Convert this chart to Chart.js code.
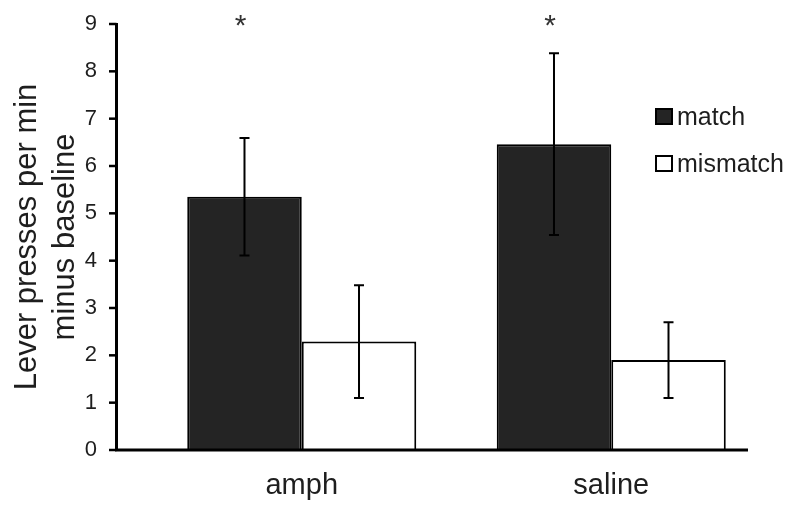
<!DOCTYPE html>
<html>
<head>
<meta charset="utf-8">
<script src="https://cdn.jsdelivr.net/npm/chart.js@4/dist/chart.umd.min.js"></script>
<style>
  html, body { margin: 0; padding: 0; background: #fff; }
  canvas { display: block; }
</style>
</head>
<body>
<canvas id="pressChart" width="800" height="518"></canvas>
<script>
// values
const categories = ['amph', 'saline'];
const matchValues = [5.35, 6.46];
const mismatchValues = [2.29, 1.90];
const matchErrors = [1.24, 1.92];
const mismatchErrors = [1.19, 0.80];
const significant = [true, true];
const yMin = 0;
const yMax = 9;

const FONT = '"Liberation Sans", Arial, sans-serif';
const TEXT = '#1e1e1e';

const errorBars = [matchErrors, mismatchErrors];

// error bars, asterisks, axis lines and the legend
const extrasPlugin = {
    id: 'extras',
    afterDatasetsDraw(chart) {
        const ctx = chart.ctx;
        const y = chart.scales.y;
        const y0 = y.getPixelForValue(yMin);
        const y9 = y.getPixelForValue(yMax);
        ctx.save();

        // error bars
        ctx.strokeStyle = '#000';
        ctx.lineWidth = 2;
        chart.data.datasets.forEach((ds, i) => {
            chart.getDatasetMeta(i).data.forEach((bar, j) => {
                const v = ds.data[j];
                const e = errorBars[i][j];
                const top = y.getPixelForValue(v + e);
                const bot = y.getPixelForValue(v - e);
                ctx.beginPath();
                ctx.moveTo(bar.x, top); ctx.lineTo(bar.x, bot);
                ctx.moveTo(bar.x - 5, top); ctx.lineTo(bar.x + 5, top);
                ctx.moveTo(bar.x - 5, bot); ctx.lineTo(bar.x + 5, bot);
                ctx.stroke();
            });
        });

        // asterisks over the match bars
        ctx.fillStyle = '#333';
        ctx.font = '30px ' + FONT;
        ctx.textAlign = 'center';
        ctx.textBaseline = 'middle';
        chart.getDatasetMeta(0).data.forEach((bar, j) => {
            if (significant[j]) ctx.fillText('*', bar.x - 4, y.getPixelForValue(9.1) + 7);
        });

        // axis lines and y tick marks
        const axisX = 116.5;
        ctx.strokeStyle = '#000';
        ctx.lineWidth = 3;
        ctx.beginPath();
        ctx.moveTo(axisX, y9 - 1);
        ctx.lineTo(axisX, y0);
        ctx.lineTo(748, y0);
        ctx.stroke();
        ctx.lineWidth = 2.5;
        for (let v = yMin; v <= yMax; v++) {
            const py = y.getPixelForValue(v);
            ctx.beginPath();
            ctx.moveTo(109, py);
            ctx.lineTo(axisX, py);
            ctx.stroke();
        }

        // legend
        ctx.font = '25px ' + FONT;
        ctx.textAlign = 'left';
        ctx.textBaseline = 'alphabetic';
        chart.data.datasets.forEach((ds, i) => {
            const top = 108 + i * 47;
            ctx.fillStyle = ds.backgroundColor;
            ctx.fillRect(655, top, 18, 17);
            ctx.strokeStyle = '#000';
            ctx.lineWidth = 2;
            ctx.strokeRect(656, top + 1, 16, 15);
            ctx.fillStyle = TEXT;
            ctx.fillText(ds.label, 677, top + 17);
        });

        ctx.restore();
    }
};

const chart = new Chart(document.getElementById('pressChart'), {
    type: 'bar',
    data: {
        labels: categories,
        datasets: [
            {
                label: 'match',
                data: matchValues,
                backgroundColor: '#242424',
                borderColor: '#000',
                borderWidth: 2
            },
            {
                label: 'mismatch',
                data: mismatchValues,
                backgroundColor: '#ffffff',
                borderColor: '#000',
                borderWidth: 2
            }
        ]
    },
    options: {
        responsive: false,
        animation: false,
        devicePixelRatio: 1,
        layout: { padding: { top: 24, right: 34, bottom: 0, left: 0 } },
        plugins: {
            legend: { display: false },
            tooltip: { enabled: false }
        },
        datasets: {
            bar: { categoryPercentage: 0.74, barPercentage: 1.0 }
        },
        scales: {
            x: {
                grid: { display: false, drawTicks: false },
                border: { display: false },
                ticks: { color: TEXT, font: { family: FONT, size: 29 }, padding: 19 },
                afterFit: (scale) => { scale.height = 68; }
            },
            y: {
                min: yMin,
                max: yMax,
                // tick length only used to push the labels left; marks drawn by the plugin
                grid: { display: false, drawTicks: true, tickLength: 50 },
                border: { display: false },
                ticks: { stepSize: 1, color: TEXT, font: { family: FONT, size: 22 }, padding: 0 },
                title: {
                    display: true,
                    text: ['Lever presses per min', 'minus baseline'],
                    color: TEXT,
                    font: { family: FONT, size: 31, lineHeight: 1.23 },
                    padding: { top: 8, bottom: 0 }
                },
                afterFit: (scale) => { scale.width = 147; }
            }
        }
    },
    plugins: [extrasPlugin]
});
</script>
</body>
</html>
